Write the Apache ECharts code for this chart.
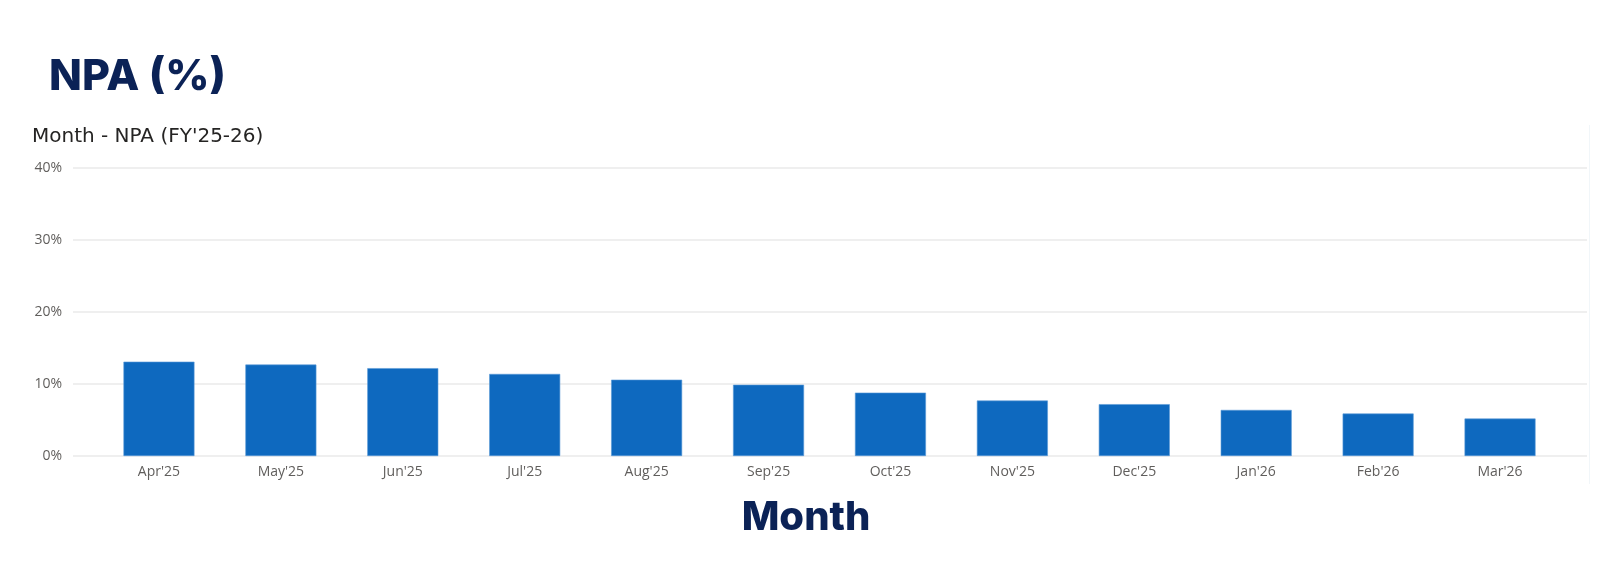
<!DOCTYPE html>
<html>
<head>
<meta charset="utf-8">
<script src="https://cdn.jsdelivr.net/npm/echarts@6/dist/echarts.min.js"></script>
<style>
html,body{margin:0;padding:0;background:#fff;}
#main{width:1603px;height:569px;}
</style>
</head>
<body>
<div id="main"></div>
<script>
const categories = ["Apr'25","May'25","Jun'25","Jul'25","Aug'25","Sep'25","Oct'25","Nov'25","Dec'25","Jan'26","Feb'26","Mar'26"];
const npaValues = [13.1, 12.7, 12.2, 11.4, 10.6, 9.9, 8.8, 7.7, 7.2, 6.4, 5.9, 5.2];
const yTicks = [0, 10, 20, 30, 40];
const chartTitle = "NPA (%)";
const chartSubtitle = "Month - NPA (FY'25-26)";
const xAxisTitle = "Month";

const chart = echarts.init(document.getElementById('main'), null, {renderer: 'canvas'});
const yMin = yTicks[0], yMax = yTicks[yTicks.length - 1], yStep = yTicks[1] - yTicks[0];
const labelFont = '"Open Sans", "Noto Sans", sans-serif';

chart.setOption({
  animation: false,
  backgroundColor: '#ffffff',
  grid: [
    {left: 73, right: 16, top: 168, bottom: 113},
    {left: 98, right: 42, top: 168, bottom: 113}
  ],
  xAxis: [
    {gridIndex: 0, type: 'category', data: categories, show: false},
    {
      gridIndex: 1, type: 'category', data: categories,
      axisLine: {show: false}, axisTick: {show: false},
      axisLabel: {color: '#605E5C', fontSize: 14, fontFamily: labelFont, margin: 9}
    }
  ],
  yAxis: [
    {
      gridIndex: 0, type: 'value', min: yMin, max: yMax, interval: yStep,
      axisLine: {show: false}, axisTick: {show: false},
      axisLabel: {color: '#605E5C', fontSize: 14, fontFamily: labelFont, margin: 11, formatter: '{value}%'},
      splitLine: {lineStyle: {color: '#EAEAEA', width: 1.5}}
    },
    {
      gridIndex: 1, type: 'value', min: yMin, max: yMax, interval: yStep,
      show: false, splitLine: {show: false}
    }
  ],
  series: [{
    type: 'bar',
    xAxisIndex: 1, yAxisIndex: 1,
    data: npaValues,
    barWidth: 71,
    itemStyle: {color: '#0E69BF', borderColor: '#5A9AD6', borderWidth: 0.6}
  }],
  graphic: [
    {type: 'text', left: 49, top: 56, style: {text: chartTitle, fill: '#0B2256', font: '800 43px "Inter", "Lato", sans-serif'}},
    {type: 'text', left: 32, top: 127, style: {text: chartSubtitle, fill: '#252423', font: '20px "DejaVu Sans", sans-serif'}},
    {type: 'text', x: 806, y: 518, style: {text: xAxisTitle, fill: '#0B2256', font: '800 40px "Inter", "Lato", sans-serif', align: 'center', verticalAlign: 'middle'}},
    {type: 'line', shape: {x1: 1589.5, y1: 125, x2: 1589.5, y2: 484}, style: {stroke: '#F1F6F9', lineWidth: 1}}
  ]
});
</script>
</body>
</html>
